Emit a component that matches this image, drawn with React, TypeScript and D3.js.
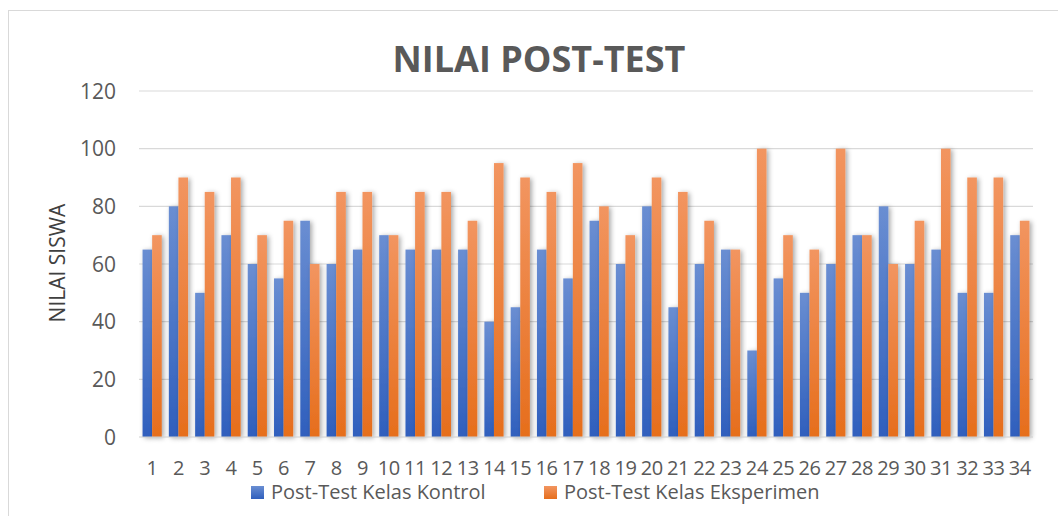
import * as d3 from "d3";
import React, { useRef, useEffect } from "react";

const students = d3.range(1, 35).map(String);
const kontrol = [65, 80, 50, 70, 60, 55, 75, 60, 65, 70, 65, 65, 65, 40, 45, 65, 55, 75, 60, 80, 45, 60, 65, 30, 55, 50, 60, 70, 80, 60, 65, 50, 50, 70];
const eksperimen = [70, 90, 85, 90, 70, 75, 60, 85, 85, 70, 85, 85, 75, 95, 90, 85, 95, 80, 70, 90, 85, 75, 65, 100, 70, 65, 100, 70, 60, 75, 100, 90, 90, 75];
const yTicks = [0, 20, 40, 60, 80, 100, 120];
const seriesNames = ["Post-Test Kelas Kontrol", "Post-Test Kelas Eksperimen"];

const W = 1058, H = 516;
const plot = { left: 139, right: 1033, top: 91, bottom: 437 };
const font = "'Open Sans', sans-serif";
const textColor = "#595959";

export default function App() {
  const ref = useRef<SVGSVGElement>(null);

  useEffect(() => {
    const svg = d3.select(ref.current);
    svg.selectAll("*").remove();

    const defs = svg.append("defs");
    const grad = (id: string, top: string, bottom: string) => {
      const g = defs.append("linearGradient").attr("id", id).attr("x1", 0).attr("y1", 0).attr("x2", 0).attr("y2", 1);
      g.append("stop").attr("offset", "0%").attr("stop-color", top);
      g.append("stop").attr("offset", "100%").attr("stop-color", bottom);
    };
    grad("gBlue", "#6a8ed2", "#2f5fbd");
    grad("gOrange", "#f29560", "#e66e1c");
    const f = defs.append("filter").attr("id", "shadow").attr("x", "-50%").attr("y", "-10%").attr("width", "220%").attr("height", "130%");
    f.append("feDropShadow").attr("dx", 2).attr("dy", 1).attr("stdDeviation", 2.5).attr("flood-color", "#000").attr("flood-opacity", 0.35);

    // chart frame
    svg.append("rect").attr("x", 8.5).attr("y", 10.5).attr("width", 1060).attr("height", 520)
      .attr("fill", "#fff").attr("stroke", "#d9d9d9");

    const x = d3.scaleBand().domain(students).range([plot.left, plot.right]).paddingInner(0.27).paddingOuter(0.135);
    const xs = d3.scaleBand().domain(["k", "e"]).range([0, x.bandwidth()]);
    const y = d3.scaleLinear().domain([0, 120]).range([plot.bottom, plot.top]);

    // gridlines
    svg.append("g").selectAll("line").data(yTicks.filter((t) => t > 0)).join("line")
      .attr("x1", plot.left).attr("x2", plot.right)
      .attr("y1", (d) => y(d)).attr("y2", (d) => y(d))
      .attr("stroke", "#d9d9d9").attr("stroke-width", 1.2);

    // y tick labels
    svg.append("g").selectAll("text").data(yTicks).join("text")
      .attr("x", 116).attr("y", (d) => y(d)).attr("dy", "0.36em")
      .attr("text-anchor", "end").attr("font-family", font).attr("font-size", 21)
      .attr("fill", textColor).text((d) => d);

    // bars
    const groups = svg.append("g").selectAll("g").data(students).join("g")
      .attr("transform", (d) => `translate(${x(d)},0)`);
    groups.append("rect")
      .attr("x", xs("k")!).attr("width", xs.bandwidth())
      .attr("y", (_, i) => y(kontrol[i])).attr("height", (_, i) => y(0) - y(kontrol[i]))
      .attr("fill", "url(#gBlue)").attr("filter", "url(#shadow)");
    groups.append("rect")
      .attr("x", xs("e")!).attr("width", xs.bandwidth())
      .attr("y", (_, i) => y(eksperimen[i])).attr("height", (_, i) => y(0) - y(eksperimen[i]))
      .attr("fill", "url(#gOrange)").attr("filter", "url(#shadow)");

    // baseline
    svg.append("line").attr("x1", plot.left).attr("x2", plot.right)
      .attr("y1", y(0)).attr("y2", y(0)).attr("stroke", "#d0d0d0").attr("stroke-width", 1.2);

    // x labels
    svg.append("g").selectAll("text").data(students).join("text")
      .attr("x", (d) => x(d)! + x.bandwidth() / 2).attr("y", 475)
      .attr("text-anchor", "middle").attr("font-family", font).attr("font-size", 20)
      .attr("letter-spacing", -0.4)
      .attr("fill", textColor).text((d) => d);

    // title
    svg.append("text").attr("x", 539).attr("y", 72).attr("text-anchor", "middle")
      .attr("font-family", font).attr("font-size", 36).attr("font-weight", "bold")
      .attr("fill", textColor).text("NILAI POST-TEST");

    // y axis title
    svg.append("text").attr("transform", `translate(65,263) rotate(-90)`)
      .attr("text-anchor", "middle").attr("font-family", font).attr("font-size", 21)
      .attr("fill", "#404040").text("NILAI SISWA");

    // legend
    const legend = [
      { name: seriesNames[0], fill: "url(#gBlue)", x: 251 },
      { name: seriesNames[1], fill: "url(#gOrange)", x: 544 },
    ];
    const lg = svg.append("g").selectAll("g").data(legend).join("g")
      .attr("transform", (d) => `translate(${d.x},486)`);
    lg.append("rect").attr("width", 13).attr("height", 13).attr("fill", (d) => d.fill);
    lg.append("text").attr("x", 20).attr("y", 13)
      .attr("font-family", font).attr("font-size", 20).attr("fill", textColor).text((d) => d.name);
  }, []);

  return (
    <svg ref={ref} width={W} height={H} style={{ position: "absolute", left: 0, top: 0 }} />
  );
}
